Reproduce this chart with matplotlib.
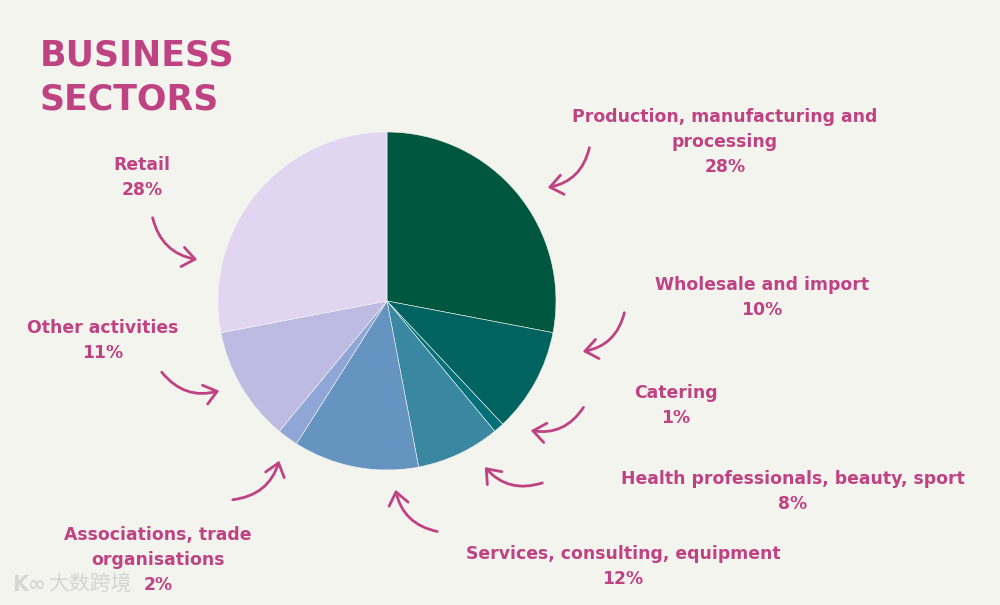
import matplotlib.pyplot as plt
from matplotlib.patches import FancyArrowPatch

# --- Data ---
sectors = ['Production, manufacturing and\nprocessing', 'Wholesale and import', 'Catering',
           'Health professionals, beauty, sport', 'Services, consulting, equipment',
           'Associations, trade\norganisations', 'Other activities', 'Retail']
shares = [28, 10, 1, 8, 12, 2, 11, 28]
colors = ['#00573f', '#006360', '#037078', '#3a87a2', '#6594c1',
          '#8fa6d6', '#bdbbe2', '#e2d5f1']

W, H = 1000, 605
BG = '#f4f4ef'
PINK = '#bf4282'

def Y(y):  # pixel row -> data y
    return H - y

# label centre x, first line y (pixels)
label_pos = [(725, 117), (762, 285), (676, 393), (793, 479),
             (623, 554), (158, 535), (103, 328), (142, 165)]
# arrow start, end (pixels), curvature
arrows = [((590, 145), (545, 188), -0.35), ((625, 310), (580, 352), -0.35),
          ((585, 405), (528, 430), -0.35), ((545, 482), (483, 465), -0.35),
          ((440, 532), (395, 487), -0.35), ((230, 500), (280, 458), 0.35),
          ((160, 370), (222, 390), 0.35), ((152, 215), (200, 260), 0.35)]

fig = plt.figure(figsize=(W / 100, H / 100), dpi=100, facecolor=BG)
ax = fig.add_axes([0, 0, 1, 1])
ax.set_facecolor(BG)

ax.pie(shares, colors=colors, startangle=90, counterclock=False,
       center=(387, Y(301)), radius=169,
       wedgeprops=dict(edgecolor=BG, linewidth=0.4))

ax.set_xlim(0, W)
ax.set_ylim(0, H)
ax.set_aspect('equal')
ax.axis('off')

# title
for i, word in enumerate(['BUSINESS', 'SECTORS']):
    ax.text(40, Y(55 + 45 * i), word, fontsize=25, fontweight='heavy', family='DejaVu Sans',
            color=PINK, va='center', ha='left')

for name, val, (x, y) in zip(sectors, shares, label_pos):
    lines = name.split('\n') + [f'{val}%']
    for i, ln in enumerate(lines):
        ax.text(x, Y(y + 25 * i), ln, fontsize=12.4, fontweight='bold', family='DejaVu Sans',
                color=PINK, ha='center', va='center')

for (p0, p1, rad) in arrows:
    arr = FancyArrowPatch((p0[0], Y(p0[1])), (p1[0], Y(p1[1])),
                          connectionstyle=f'arc3,rad={rad}',
                          arrowstyle='->,head_length=0.45,head_width=0.35',
                          mutation_scale=20, color=PINK, lw=2,
                          capstyle='round', joinstyle='round')
    ax.add_patch(arr)

# watermark
ax.text(12, Y(585), 'K∞', fontsize=15, color='#d6d6d6', ha='left', va='center',
        family='DejaVu Sans', fontweight='bold')
ax.text(48, Y(585), '大数跨境', fontsize=15, color='#d4d4d4', ha='left', va='center',
        family=['Noto Sans CJK SC', 'DejaVu Sans'])

fig.savefig('out.png', dpi=100, facecolor=BG)
